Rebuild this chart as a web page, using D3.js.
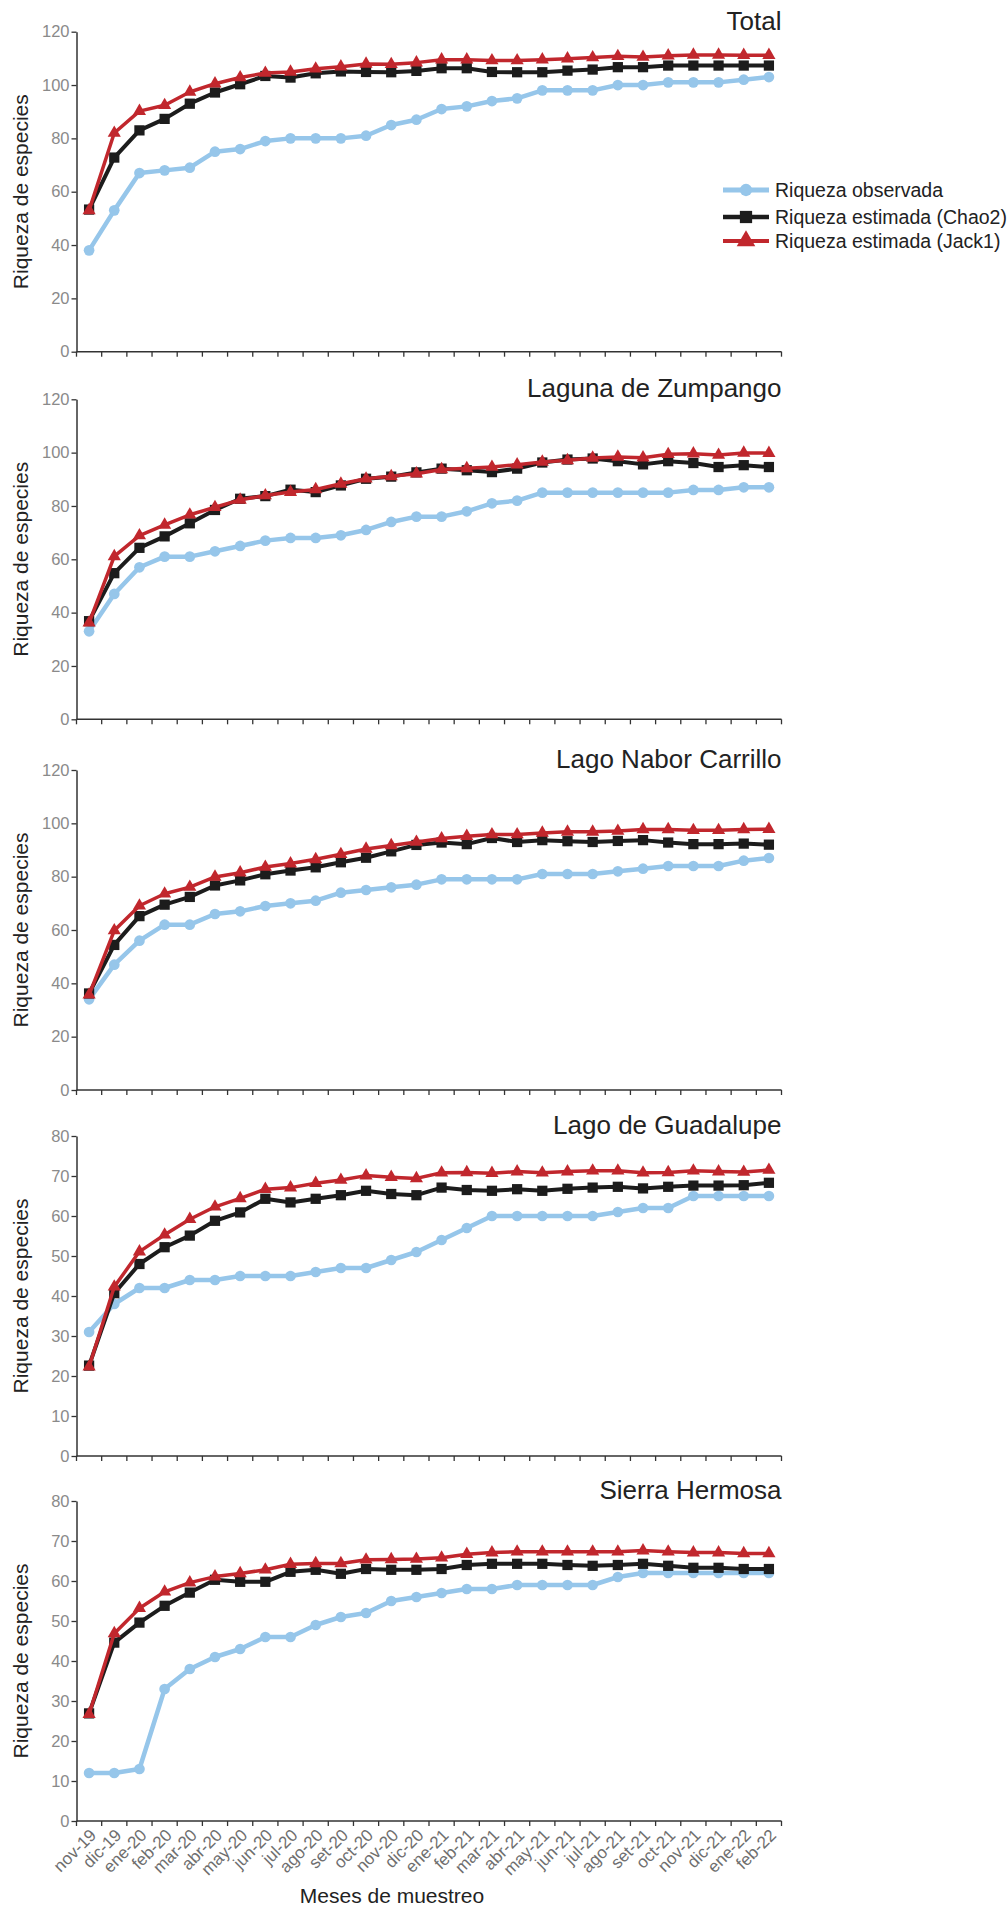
<!DOCTYPE html>
<html>
<head>
<meta charset="utf-8">
<script src="https://cdn.jsdelivr.net/npm/d3@7"></script>
<style>
  body { margin: 0; background: #fff; }
  svg { display: block; font-family: "Liberation Sans", Arial, sans-serif; }
</style>
</head>
<body>
<div id="chart"></div>
<script>
// months on the x axis
const months = ["nov-19","dic-19","ene-20","feb-20","mar-20","abr-20","may-20","jun-20","jul-20","ago-20",
  "set-20","oct-20","nov-20","dic-20","ene-21","feb-21","mar-21","abr-21","may-21","jun-21","jul-21",
  "ago-21","set-21","oct-21","nov-21","dic-21","ene-22","feb-22"];

const panelTitles = ["Total", "Laguna de Zumpango", "Lago Nabor Carrillo", "Lago de Guadalupe", "Sierra Hermosa"];
const yTicks120 = [0, 20, 40, 60, 80, 100, 120];
const yTicks80 = [0, 10, 20, 30, 40, 50, 60, 70, 80];
const seriesNames = ["Riqueza observada", "Riqueza estimada (Chao2)", "Riqueza estimada (Jack1)"];

// Total
const obsTotal = [38,53,67,68,69,75,76,79,80,80,80,81,85,87,91,92,94,95,98,98,98,100,100,101,101,101,102,103];
const chaoTotal = [53.3,72.8,83,87.3,93,97.2,100.3,103.4,102.8,104.4,105.1,104.9,104.8,105.3,106.3,106.3,104.9,104.8,104.8,105.4,105.8,106.7,106.7,107.3,107.3,107.3,107.3,107.3];
const jackTotal = [53,82,90.2,92.4,97.4,100.5,102.8,104.5,104.9,106.1,106.9,107.9,107.8,108.4,109.5,109.5,109.2,109.2,109.5,109.9,110.3,110.8,110.5,111,111.3,111.3,111.2,111.2];

// Laguna de Zumpango
const obsZump = [33,47,57,61,61,63,65,67,68,68,69,71,74,76,76,78,81,82,85,85,85,85,85,85,86,86,87,87];
const chaoZump = [36.8,54.8,64.3,68.6,73.5,78.5,82.7,83.7,86.1,85.2,87.7,90.2,91,92.6,94,93.4,92.7,94,96.3,97.4,97.8,96.8,95.6,96.8,96.1,94.6,95.3,94.6];
const jackZump = [36.2,61.1,68.9,72.9,76.7,79.5,82.3,83.9,85.2,86.2,88.3,90.2,91.1,92.1,93.7,94.1,94.6,95.5,96.5,97.1,98,98.4,98.1,99.4,99.6,99.1,99.9,99.8];

// Lago Nabor Carrillo
const obsNabor = [34,47,56,62,62,66,67,69,70,71,74,75,76,77,79,79,79,79,81,81,81,82,83,84,84,84,86,87];
const chaoNabor = [36.2,54.4,65.2,69.5,72.4,76.7,78.6,80.9,82.3,83.5,85.4,87.1,89.5,91.9,92.8,92.2,94.5,93,93.7,93.3,93,93.4,93.7,92.8,92.2,92.2,92.4,92];
const jackNabor = [35.7,59.8,69.1,73.6,76.1,79.9,81.5,83.6,84.9,86.5,88.4,90.4,91.7,93,94.3,95.2,95.8,95.8,96.4,96.8,96.8,97.1,97.7,97.7,97.4,97.4,97.7,97.8];

// Lago de Guadalupe
const obsGuad = [31,38,42,42,44,44,45,45,45,46,47,47,49,51,54,57,60,60,60,60,60,61,62,62,65,65,65,65];
const chaoGuad = [22.6,40.7,48,52.2,55.1,58.8,60.9,64.3,63.4,64.3,65.2,66.3,65.5,65.2,67.1,66.5,66.3,66.7,66.3,66.8,67.1,67.3,66.9,67.3,67.6,67.6,67.7,68.3];
const jackGuad = [22.3,42.3,51.1,55.3,59.2,62.3,64.4,66.7,67.1,68.2,69,70.1,69.7,69.4,70.8,70.9,70.7,71.1,70.8,71.1,71.3,71.3,70.8,70.9,71.3,71.1,71,71.5];

// Sierra Hermosa
const obsSierra = [12,12,13,33,38,41,43,46,46,49,51,52,55,56,57,58,58,59,59,59,59,61,62,62,62,62,62,62];
const chaoSierra = [26.9,44.6,49.6,53.8,57.1,60.3,59.8,59.8,62.3,62.8,61.8,63,62.8,62.8,63,64,64.3,64.3,64.3,64,63.8,64,64.3,63.8,63.3,63.3,63,63];
const jackSierra = [26.7,46.9,53.2,57.3,59.6,61.1,61.9,62.8,64.2,64.4,64.4,65.3,65.4,65.5,65.8,66.7,67.1,67.3,67.3,67.3,67.3,67.3,67.6,67.3,67.1,67.1,66.9,66.9];

const panels = [
  {title: panelTitles[0], ticks: yTicks120, series: [obsTotal, chaoTotal, jackTotal]},
  {title: panelTitles[1], ticks: yTicks120, series: [obsZump, chaoZump, jackZump]},
  {title: panelTitles[2], ticks: yTicks120, series: [obsNabor, chaoNabor, jackNabor]},
  {title: panelTitles[3], ticks: yTicks80, series: [obsGuad, chaoGuad, jackGuad]},
  {title: panelTitles[4], ticks: yTicks80, series: [obsSierra, chaoSierra, jackSierra]}
];

//styles for the three series
const colors = ["#96c6ea", "#1c1c1c", "#c1272d"];
const lineWidths = [4.5, 4, 3.5];
const symbols = [d3.symbolCircle, d3.symbolSquare, d3.symbolTriangle];
const symbolSizes = [90, 105, 75];

const width = 1008, height = 1908;
const left = 76.5, right = 781.5;
const panelTops = [31.7, 399.3, 770, 1136, 1501];
const panelH = 320;

const svg = d3.select("#chart").append("svg").attr("width", width).attr("height", height);

const x = d3.scaleBand().domain(months).range([left, right]).padding(0);
const cx = d => x(d) + x.bandwidth() / 2;

panels.forEach(function(p, pi) {
  const top = panelTops[pi];
  const bottom = top + panelH;
  const yMax = p.ticks[p.ticks.length - 1];
  const y = d3.scaleLinear().domain([0, yMax]).range([bottom, top]);
  const g = svg.append("g");

  //y axis
  const yAxis = g.append("g")
    .attr("transform", `translate(${left},0)`)
    .call(d3.axisLeft(y).tickValues(p.ticks).tickSize(5).tickSizeOuter(0).tickPadding(2));
  yAxis.select(".domain").attr("stroke", "#333").attr("stroke-width", 1.5);
  yAxis.selectAll(".tick line").attr("stroke", "#333").attr("stroke-width", 1.3);
  yAxis.selectAll(".tick text").attr("fill", "#8a8a8a").style("font-size", "16.5px")
    .style("font-family", "'Liberation Sans', Arial, sans-serif");

  //x axis line and tick marks at category borders
  g.append("line")
    .attr("x1", left).attr("x2", right)
    .attr("y1", bottom).attr("y2", bottom)
    .attr("stroke", "#333").attr("stroke-width", 1.5);
  const borders = months.map(m => x(m)).concat([x.range()[1]]);
  g.selectAll(".xtick").data(borders).enter().append("line")
    .attr("class", "xtick")
    .attr("x1", d => d).attr("x2", d => d)
    .attr("y1", bottom).attr("y2", bottom + 5)
    .attr("stroke", "#333").attr("stroke-width", 1.3);

  //month labels only under last panel
  if (pi === panels.length - 1) {
    g.selectAll(".xlab").data(months).enter().append("text")
      .attr("class", "xlab")
      .attr("transform", d => `translate(${cx(d) + 4},${bottom + 11}) rotate(-45)`)
      .attr("text-anchor", "end")
      .attr("dy", "0.35em")
      .attr("fill", "#6e6e6e")
      .style("font-size", "17px")
      .text(d => d);
  }

  //y axis title
  g.append("text")
    .attr("transform", `translate(28,${(top + bottom) / 2}) rotate(-90)`)
    .attr("text-anchor", "middle")
    .attr("fill", "#222")
    .style("font-size", "21px")
    .text("Riqueza de especies");

  //panel title
  g.append("text")
    .attr("x", right).attr("y", top - 2)
    .attr("text-anchor", "end")
    .attr("fill", "#222")
    .style("font-size", "26px")
    .text(p.title);

  //series
  p.series.forEach(function(vals, si) {
    const pts = vals.map((v, i) => [cx(months[i]), y(v)]);
    g.append("path")
      .attr("d", d3.line()(pts))
      .attr("fill", "none")
      .attr("stroke", colors[si])
      .attr("stroke-width", lineWidths[si])
      .attr("stroke-linejoin", "round");
    g.selectAll(".m" + si).data(pts).enter().append("path")
      .attr("class", "m" + si)
      .attr("transform", d => `translate(${d[0]},${d[1]})`)
      .attr("d", d3.symbol(symbols[si]).size(symbolSizes[si]))
      .attr("fill", colors[si]);
  });
});

//x axis title
svg.append("text")
  .attr("x", 392).attr("y", 1903)
  .attr("text-anchor", "middle")
  .attr("fill", "#222")
  .style("font-size", "21px")
  .text("Meses de muestreo");

//legend in the first panel
const legend = svg.append("g");
const legRows = [190, 217, 241];
seriesNames.forEach(function(name, si) {
  const ly = legRows[si];
  legend.append("line")
    .attr("x1", 723).attr("x2", 769)
    .attr("y1", ly).attr("y2", ly)
    .attr("stroke", colors[si]).attr("stroke-width", lineWidths[si] + 0.5);
  legend.append("path")
    .attr("transform", `translate(746,${ly})`)
    .attr("d", d3.symbol(symbols[si]).size(si === 0 ? 120 : 150))
    .attr("fill", colors[si]);
  legend.append("text")
    .attr("x", 775).attr("y", ly)
    .attr("dy", "0.35em")
    .attr("fill", "#222")
    .style("font-size", "19.5px")
    .text(name);
});
</script>
</body>
</html>
